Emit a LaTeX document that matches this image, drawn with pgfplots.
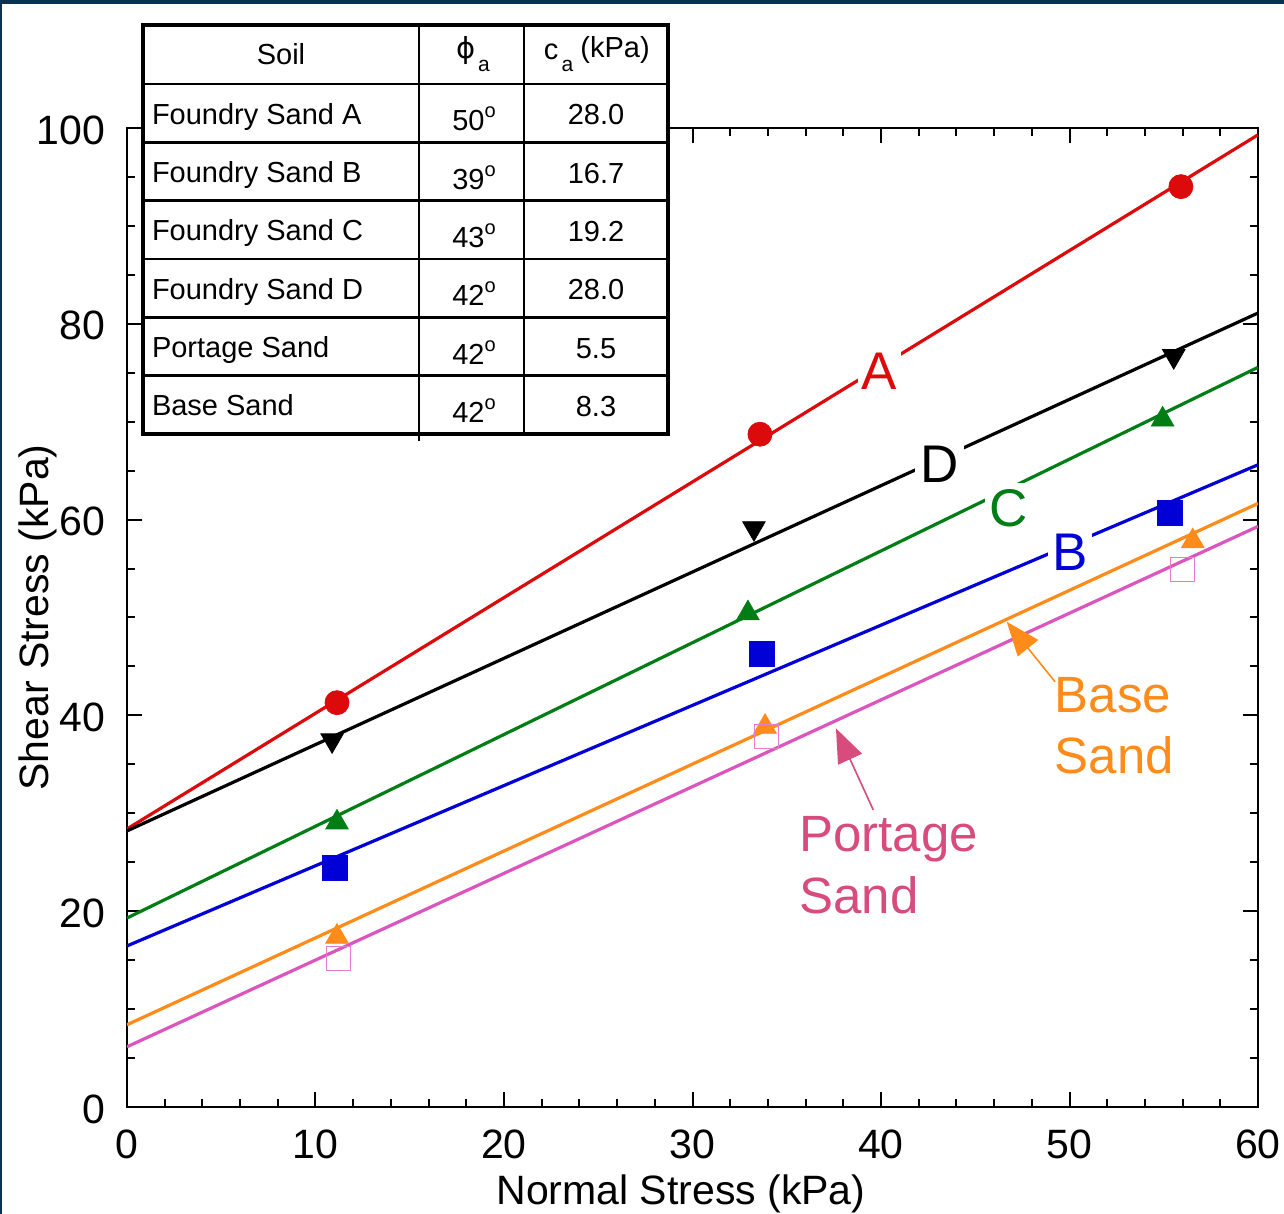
\documentclass[border=0pt]{standalone}
\usepackage{pgfplots}
\pgfplotsset{compat=1.18}
\usepackage{fontspec}
\setmainfont{Liberation Sans}
\newfontfamily\dejavu{DejaVu Sans}
\usetikzlibrary{arrows.meta}
\definecolor{cA}{RGB}{220,10,10}
\definecolor{cC}{RGB}{0,125,20}
\definecolor{cB}{RGB}{0,0,215}
\definecolor{cBase}{RGB}{255,140,26}
\definecolor{cPort}{RGB}{220,85,190}
\definecolor{cPortM}{RGB}{228,125,205}
\definecolor{cPortT}{RGB}{215,75,125}
\definecolor{navy}{RGB}{10,50,80}
\begin{document}
\begin{tikzpicture}
\useasboundingbox (-63.5pt,-53.5pt) rectangle (578.5pt,553.5pt);
\fill[white] (-63.5pt,-53.5pt) rectangle (578.5pt,553.5pt);
\fill[navy] (-63.5pt,551.5pt) rectangle (578.5pt,553.5pt);
\fill[navy] (-63.5pt,-53.5pt) rectangle (-62.5pt,553.5pt);
\begin{axis}[
  scale only axis, width=565.5pt, height=489.5pt,
  xmin=0, xmax=60, ymin=0, ymax=100,
  xtick={0,10,...,60}, ytick={0,20,...,100},
  minor x tick num=4, minor y tick num=3,
  tick align=inside,
  major tick length=7.5pt, minor tick length=4pt,
  tick style={line width=1pt, black},
  axis line style={line width=1.25pt},
  /pgf/number format/assume math mode=true,
  tick label style={font=\fontsize{20.5}{24}\selectfont},
  xticklabel style={yshift=-8pt},
  yticklabel style={xshift=-7.5pt, yshift=-1pt},
  xlabel={Normal Stress (kPa)},
  ylabel={Shear Stress (kPa)},
  xlabel style={at={(axis description cs:0.4898,-0.0991)}, anchor=base, inner sep=0pt, font=\fontsize{20.5}{24}\selectfont},
  ylabel style={at={(axis description cs:-0.069,0.5)}, anchor=base, inner sep=0pt, font=\fontsize{20.5}{24}\selectfont},
]
% fitted lines
\addplot[cA, line width=1.6pt, no markers] coordinates {(0,28.4) (60,99.3)};
\addplot[black, line width=1.6pt, no markers] coordinates {(0,28.2) (60,81.1)};
\addplot[cC, line width=1.6pt, no markers] coordinates {(0,19.3) (60,75.55)};
\addplot[cB, line width=1.6pt, no markers] coordinates {(0,16.45) (60,65.6)};
\addplot[cBase, line width=1.6pt, no markers] coordinates {(0,8.4) (60,61.65)};
\addplot[cPort, line width=1.6pt, no markers] coordinates {(0,6.15) (60,59.3)};
% data points
\addplot[only marks, mark=*, mark size=6pt, cA] coordinates {(11.14,41.3) (33.58,68.72) (55.91,94.01)};
\addplot[only marks, mark=triangle*, mark size=6.5pt, black, mark options={rotate=180}] coordinates {(10.88,37.46) (33.26,59.12) (55.53,76.7)};
\addplot[only marks, mark=triangle*, mark size=6.5pt, cC] coordinates {(11.14,29.06) (32.94,50.43) (54.94,70.22)};
\addplot[only marks, mark=square*, mark size=6.25pt, cB] coordinates {(11.03,24.38) (33.67,46.24) (55.35,60.65)};
\addplot[only marks, mark=triangle*, mark size=6.5pt, cBase] coordinates {(11.14,17.39) (33.85,38.84) (56.54,57.8)};
\addplot[only marks, mark=square, mark size=6pt, cPortM, mark options={line width=0.7pt}] coordinates {(11.23,15.19) (33.92,37.86) (55.99,54.9)};
% labels
\node[fill=white, inner xsep=2pt, inner ysep=3pt, text=cA, font=\fontsize{26.5}{30}\selectfont] at (axis cs:39.91,75.2) {A};
\node[fill=white, inner xsep=2.5pt, inner ysep=3pt, text=black, font=\fontsize{26.5}{30}\selectfont] at (axis cs:43.1,65.7) {D};
\node[fill=white, inner xsep=2.5pt, inner ysep=3pt, text=cC, font=\fontsize{26.5}{30}\selectfont] at (axis cs:46.79,61.2) {C};
\node[fill=white, inner xsep=2pt, inner ysep=4pt, text=cB, font=\fontsize{26.5}{30}\selectfont] at (axis cs:50.03,56.7) {B};
\node[anchor=base west, inner sep=0pt, text=cBase, font=\fontsize{25.5}{30}\selectfont] at (axis cs:49.2,40.25) {Base};
\node[anchor=base west, inner sep=0pt, text=cBase, font=\fontsize{25.5}{30}\selectfont] at (axis cs:49.2,34.09) {Sand};
\node[anchor=base west, inner sep=0pt, text=cPortT, font=\fontsize{25.5}{30}\selectfont] at (axis cs:35.65,26.08) {Portage};
\node[anchor=base west, inner sep=0pt, text=cPortT, font=\fontsize{25.5}{30}\selectfont] at (axis cs:35.65,19.79) {Sand};
\draw[cBase, line width=0.8pt, -{Triangle[length=17pt,width=13pt]}] (axis cs:49.23,43.44) -- (axis cs:46.67,49.57);
\draw[cPortT, line width=0.8pt, -{Triangle[length=17pt,width=13pt]}] (axis cs:39.59,30.34) -- (axis cs:37.61,38.68);
\end{axis}
% table
\fill[white] (8pt,336.5pt) rectangle (270.5pt,541pt);
\draw[line width=1.4pt] (146pt,333pt) -- (146pt,541pt);
\draw[line width=1.4pt] (198.5pt,336.5pt) -- (198.5pt,541pt);
\foreach \yy in {511.5,482.33,453.17,424,394.83,365.67}
  \draw[line width=1.4pt] (8pt,\yy pt) -- (270.5pt,\yy pt);
\draw[line width=2pt] (8pt,336.5pt) rectangle (270.5pt,541pt);
\begin{scope}[every node/.style={inner sep=0pt, font=\fontsize{14.5}{17}\selectfont}]
\node[anchor=base] at (77pt,521pt) {Soil};
\node[anchor=base] at (169.75pt,524pt) {\dejavu ϕ};
\node[anchor=base, font=\fontsize{10.5}{12}\selectfont] at (178.5pt,517.5pt) {a};
\node[anchor=base] at (212pt,523.5pt) {c};
\node[anchor=base, font=\fontsize{10.5}{12}\selectfont] at (220.25pt,517.5pt) {a};
\node[anchor=base west] at (226.5pt,524.5pt) {(kPa)};
\foreach \nm/\dg/\cv [count=\i] in {Foundry Sand A/50/28.0, Foundry Sand B/39/16.7, Foundry Sand C/43/19.2, Foundry Sand D/42/28.0, Portage Sand/42/5.5, Base Sand/42/8.3}{
  \pgfmathsetmacro{\yt}{511.5-(\i-1)*29.167}
  \node[anchor=base west] at (12.3pt,\yt pt-20.15pt) {\nm};
  \node[anchor=base] at (173.5pt,\yt pt-23.5pt) {\dg\raisebox{6.5pt}{\fontsize{10}{10}\selectfont o}};
  \node[anchor=base] at (234.5pt,\yt pt-20.5pt) {\cv};
}
\end{scope}
\end{tikzpicture}
\end{document}
